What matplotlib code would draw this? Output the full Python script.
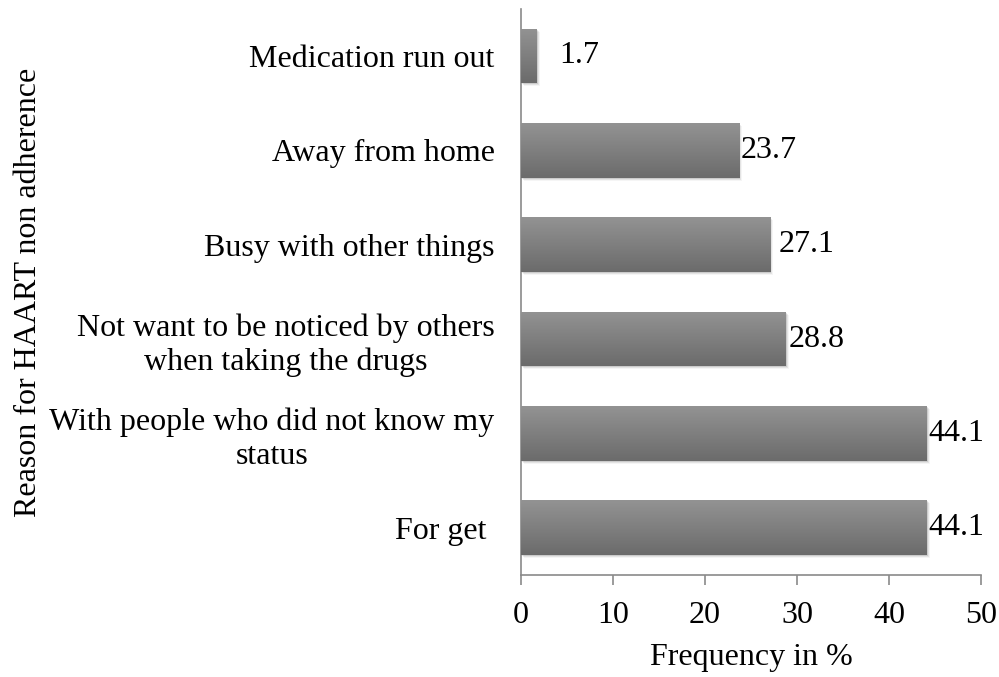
import matplotlib
matplotlib.use("Agg")
import matplotlib.pyplot as plt
import matplotlib.transforms as mtransforms
import numpy as np

plt.rcParams["font.family"] = ["Liberation Serif", "DejaVu Serif"]

# Reasons for missed doses (bottom to top as drawn)
reasons = [
    "For get ",
    "With people who did not know my\nstatus",
    "Not want to be noticed by others\nwhen taking the drugs",
    "Busy with other things",
    "Away from home",
    "Medication run out",
]
frequency = [44.1, 44.1, 28.8, 27.1, 23.7, 1.7]
label_gap = [1, 1, 2, 6, 1, 16]  # points between bar end and value label

fig = plt.figure(figsize=(9.99, 6.77), dpi=100)
ax = fig.add_axes([0.5215, 0.1507, 0.4605, 0.8363])

y = np.arange(len(reasons))
bars = ax.barh(y, frequency, height=0.58, color="none", edgecolor="none", zorder=3)

# vertical grey gradient (light on top) with a soft drop shadow for each bar
grad = np.linspace(0, 1, 256).reshape(-1, 1)
cmap = matplotlib.colors.LinearSegmentedColormap.from_list("bar", ["#6b6b6b", "#939393"])
for rect in bars:
    x0, y0 = rect.get_x(), rect.get_y()
    w, h = rect.get_width(), rect.get_height()
    for k, a in enumerate([0.10, 0.07, 0.04]):
        sh = plt.Rectangle((x0, y0), w, h, facecolor="black", alpha=a, edgecolor="none",
                           transform=mtransforms.offset_copy(ax.transData, fig=fig,
                                                             x=1 + k, y=-1 - k, units="dots"),
                           zorder=2)
        ax.add_patch(sh)
    im = ax.imshow(grad, cmap=cmap, aspect="auto", extent=(x0, x0 + w, y0, y0 + h),
                   origin="lower", zorder=3)
    im.set_clip_path(rect)

for yi, v, g in zip(y, frequency, label_gap):
    ax.annotate(f"{v}", xy=(v, yi), xytext=(g, 0), textcoords="offset points",
                va="center", ha="left", fontsize=23, color="black")

ax.set_xlim(0, 50)
ax.set_ylim(-0.5, len(reasons) - 0.5)
ax.set_xticks(range(0, 51, 10))
ax.set_yticks(y)
ax.set_yticklabels(reasons, fontsize=23, multialignment="center")

for side in ["top", "right"]:
    ax.spines[side].set_visible(False)
for side in ["left", "bottom"]:
    ax.spines[side].set_color("#8a8a8a")
    ax.spines[side].set_linewidth(1.2)

ax.tick_params(axis="x", direction="out", length=7, width=1.2, color="#8a8a8a",
               labelsize=23, pad=12)
ax.tick_params(axis="y", length=0, pad=19)

ax.set_xlabel("Frequency in %", fontsize=23, labelpad=9)
ax.set_ylabel("Reason for HAART non adherence", fontsize=23)
ax.yaxis.set_label_coords(-1.04, 0.5)

fig.savefig("out.png", dpi=100)
